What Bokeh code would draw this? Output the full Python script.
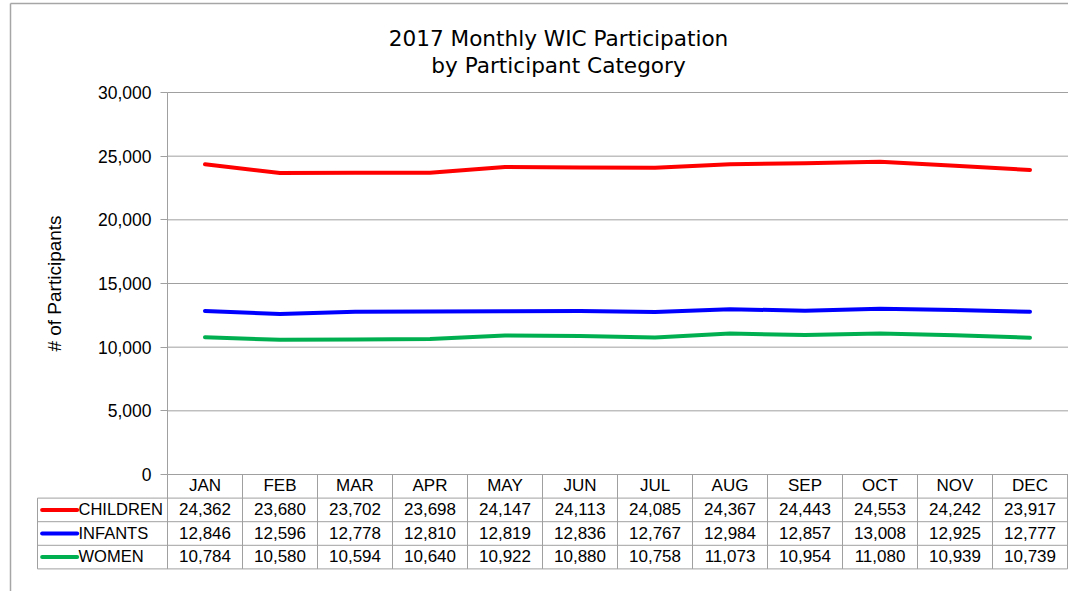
from bokeh.plotting import figure
from bokeh.models import Range1d, FixedTicker, NumeralTickFormatter, LinearAxis
from bokeh.embed import file_html
from bokeh.resources import INLINE
from bokeh.core.properties import value

# ---------------- data ----------------
months = ["JAN", "FEB", "MAR", "APR", "MAY", "JUN", "JUL", "AUG", "SEP", "OCT", "NOV", "DEC"]
children = [24362, 23680, 23702, 23698, 24147, 24113, 24085, 24367, 24443, 24553, 24242, 23917]
infants = [12846, 12596, 12778, 12810, 12819, 12836, 12767, 12984, 12857, 13008, 12925, 12777]
women = [10784, 10580, 10594, 10640, 10922, 10880, 10758, 11073, 10954, 11080, 10939, 10739]
series_names = ["CHILDREN", "INFANTS", "WOMEN"]
series_values = [children, infants, women]
series_colors = ["#FF0000", "#0000FF", "#00B050"]
y_ticks = [0, 5000, 10000, 15000, 20000, 25000, 30000]
y_max = 30000
title_lines = ["2017 Monthly WIC Participation", "by Participant Category"]
y_label = "# of Participants"

# ---------------- layout constants (pixels) ----------------
W, H = 1068, 591
AXIS_X = 167.0          # pixel of category origin / value axis
COL_PX = 75.0           # width of one month column
Y_TOP, Y_ZERO = 92.0, 474.0
ROW_PX = 23.6
LEG_W = 130.0 / COL_PX
GRID = "#A0A0A0"
FONT = value("Liberation Sans")
FS = "17px"
FS_NAMES = "16.5px"
TITLE_X, TITLE_Y = 558, [37.5, 64.5]

n = len(months)
nrows = len(series_names)
xs = [i + 0.5 for i in range(n)]
px_per_val = (Y_ZERO - Y_TOP) / y_max

p = figure(width=W, height=H, output_backend="svg", toolbar_location=None,
           x_range=Range1d(-AXIS_X / COL_PX, (W - AXIS_X) / COL_PX),
           y_range=Range1d(-(H - Y_ZERO) / px_per_val, Y_ZERO / px_per_val),
           x_axis_location=None, y_axis_location=None,
           min_border=0, min_border_left=0, min_border_right=0,
           min_border_top=0, min_border_bottom=0,
           outline_line_color=None, background_fill_color="white",
           border_fill_color="white")
p.extra_y_ranges = {"table": Range1d((H - Y_ZERO) / ROW_PX, -Y_ZERO / ROW_PX),
                    "px": Range1d(H, 0)}
p.extra_x_ranges = {"px": Range1d(0, W)}
p.xgrid.grid_line_color = None
p.ygrid.grid_line_color = None

# outer chart border (cut by the window on right and bottom)
p.segment(x0=[10, 10], y0=[3, 3], x1=[10, W], y1=[H, 3], line_color="#A6A6A6",
          line_width=1.5, x_range_name="px", y_range_name="px")

# horizontal gridlines
p.segment(x0=[0] * len(y_ticks), y0=y_ticks, x1=[n + 1] * len(y_ticks), y1=y_ticks,
          line_color=GRID, line_width=1)

# value axis drawn at the category origin
yax = LinearAxis(ticker=FixedTicker(ticks=y_ticks), formatter=NumeralTickFormatter(format="0,0"),
                 fixed_location=0, bounds=(0, y_max))
yax.axis_line_color = GRID
yax.major_tick_line_color = GRID
yax.major_tick_out = 7
yax.major_tick_in = 0
yax.minor_tick_line_color = None
yax.major_label_text_font = "Liberation Sans"
yax.major_label_text_font_size = "17.5px"
yax.major_label_text_color = "#000000"
yax.major_label_standoff = 9
yax.axis_label = y_label
yax.axis_label_text_font = "Liberation Sans"
yax.axis_label_text_font_size = "19px"
yax.axis_label_text_font_style = "normal"
yax.axis_label_text_color = "#000000"
yax.axis_label_standoff = 30
p.add_layout(yax, "left")

# series lines
for vals, col in zip(series_values, series_colors):
    p.line(xs, vals, line_color=col, line_width=4, line_cap="round", line_join="round")

# title
p.text(x=[TITLE_X] * 2, y=TITLE_Y, text=title_lines, text_font=value("DejaVu Sans"),
       text_font_size="21.6px", text_align="center", text_baseline="middle",
       text_color="#000000", x_range_name="px", y_range_name="px")

# ---------------- data table ----------------
T = "table"
# horizontal borders
rows_b = [r + 1 for r in range(nrows + 1)]
p.segment(x0=[-LEG_W] * len(rows_b), y0=rows_b, x1=[n] * len(rows_b), y1=rows_b,
          line_color=GRID, line_width=1, y_range_name=T)
# vertical borders (category separators)
p.segment(x0=list(range(n + 1)), y0=[0] * (n + 1), x1=list(range(n + 1)),
          y1=[nrows + 1] * (n + 1), line_color=GRID, line_width=1, y_range_name=T)
p.segment(x0=[-LEG_W], y0=[1], x1=[-LEG_W], y1=[nrows + 1], line_color=GRID,
          line_width=1, y_range_name=T)

# header
p.text(x=xs, y=[0.47] * n, text=months, text_font=FONT, text_font_size=FS,
       text_align="center", text_baseline="middle", text_color="#000000", y_range_name=T)
# values
for r, vals in enumerate(series_values):
    p.text(x=xs, y=[r + 1.47] * n, text=[f"{v:,}" for v in vals], text_font=FONT,
           text_font_size=FS, text_align="center", text_baseline="middle",
           text_color="#000000", y_range_name=T)
# legend keys + names
p.segment(x0=[-LEG_W + 0.062] * nrows, y0=[r + 1.5 for r in range(nrows)],
          x1=[-LEG_W + 0.529] * nrows, y1=[r + 1.5 for r in range(nrows)],
          line_color=series_colors, line_width=4, line_cap="round", y_range_name=T)
p.text(x=[-LEG_W + 0.547] * nrows, y=[r + 1.47 for r in range(nrows)], text=series_names,
       text_font=FONT, text_font_size=FS_NAMES, text_align="left", text_baseline="middle",
       text_color="#000000", y_range_name=T)

open("out.html", "w").write(file_html(p, INLINE))
